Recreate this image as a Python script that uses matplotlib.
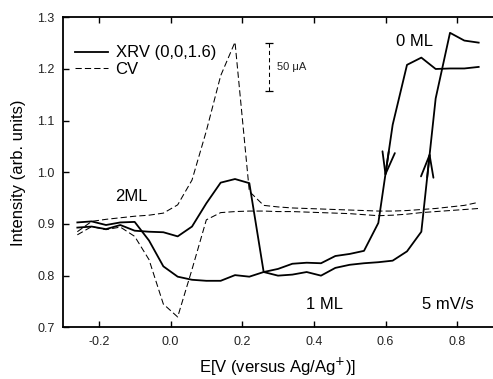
import matplotlib
matplotlib.use("Agg")
import matplotlib.pyplot as plt
import numpy as np

plt.rcParams['font.family'] = ['Liberation Sans', 'DejaVu Sans']
plt.rcParams['axes.unicode_minus'] = False

# XRV (0,0,1.6) intensity, positive-going scan (through the 2ML hump)
xrv_fwd_v = [-0.26, -0.22, -0.18, -0.14, -0.10, -0.06, -0.02, 0.02, 0.06, 0.10,
             0.14, 0.18, 0.22, 0.26, 0.30, 0.34, 0.38, 0.42, 0.46, 0.50,
             0.54, 0.58, 0.62, 0.66, 0.70, 0.74, 0.78, 0.82, 0.86]
xrv_fwd_i = [0.893, 0.895, 0.890, 0.898, 0.887, 0.885, 0.884, 0.876, 0.895, 0.940,
             0.980, 0.987, 0.979, 0.807, 0.800, 0.802, 0.807, 0.800, 0.815, 0.821,
             0.824, 0.826, 0.829, 0.847, 0.885, 1.143, 1.270, 1.255, 1.251]

# XRV, negative-going scan
xrv_rev_v = [0.86, 0.82, 0.78, 0.74, 0.70, 0.66, 0.62, 0.58, 0.54, 0.50,
             0.46, 0.42, 0.38, 0.34, 0.30, 0.26, 0.22, 0.18, 0.14, 0.10,
             0.06, 0.02, -0.02, -0.06, -0.10, -0.14, -0.18, -0.22, -0.26]
xrv_rev_i = [1.204, 1.201, 1.201, 1.200, 1.222, 1.208, 1.092, 0.902, 0.848, 0.842,
             0.838, 0.824, 0.825, 0.823, 0.813, 0.807, 0.798, 0.801, 0.790, 0.790,
             0.792, 0.798, 0.818, 0.868, 0.904, 0.903, 0.898, 0.905, 0.903]

# CV (arbitrary offset/scale), anodic branch with the peak
cv_a_v = [-0.26, -0.22, -0.18, -0.14, -0.10, -0.06, -0.02, 0.02, 0.06, 0.10,
          0.14, 0.18, 0.22, 0.26, 0.30, 0.34, 0.38, 0.42, 0.46, 0.50,
          0.54, 0.58, 0.62, 0.66, 0.70, 0.74, 0.78, 0.82, 0.86]
cv_a_i = [0.885, 0.905, 0.909, 0.912, 0.915, 0.917, 0.921, 0.937, 0.985, 1.080,
          1.187, 1.252, 0.963, 0.936, 0.933, 0.931, 0.930, 0.929, 0.928, 0.927,
          0.926, 0.925, 0.925, 0.926, 0.928, 0.930, 0.933, 0.936, 0.942]

# CV cathodic branch with the valley
cv_b_v = cv_a_v
cv_b_i = [0.879, 0.895, 0.889, 0.894, 0.876, 0.831, 0.745, 0.720, 0.812, 0.908,
          0.922, 0.924, 0.925, 0.925, 0.924, 0.924, 0.923, 0.922, 0.921, 0.920,
          0.918, 0.916, 0.917, 0.919, 0.922, 0.924, 0.926, 0.928, 0.930]

# scale bar for the CV current (50 uA)
bar_v = 0.275
bar_top = 1.250
bar_bottom = 1.157

# scan-direction arrows: intensity level where the chevron tip sits
arrow_down_i = 0.99
arrow_up_i = 1.04

fig = plt.figure(figsize=(4.93, 3.79), dpi=100)
ax = fig.add_axes([0.1278, 0.1364, 0.8722, 0.8179])

ax.plot(xrv_fwd_v, xrv_fwd_i, color='black', lw=1.3, label='XRV (0,0,1.6)')
ax.plot(xrv_rev_v, xrv_rev_i, color='black', lw=1.3)
ax.plot(cv_a_v, cv_a_i, color='black', lw=0.75, dashes=(6, 3), label='CV')
ax.plot(cv_b_v, cv_b_i, color='black', lw=0.75, dashes=(6, 3))

# scale bar
ax.plot([bar_v, bar_v], [bar_bottom, bar_top], color='black', lw=0.75, dashes=(4, 3))
ax.plot([bar_v, bar_v], [bar_bottom, bar_top], ls='none', marker='_', ms=6,
        mew=0.9, color='black')
ax.text(bar_v + 0.021, (bar_top + bar_bottom) / 2, '50 \u03bcA', fontsize=8,
        ha='left', va='center', color='#222222')

# chevrons marking the scan direction on the two steep branches
seg_v = xrv_rev_v[6:8][::-1]
seg_i = xrv_rev_i[6:8][::-1]
tip_v = np.interp(arrow_down_i, seg_i, seg_v)
tail_v = np.interp(arrow_down_i + 0.05, seg_i, seg_v)
ax.annotate('', xy=(tip_v, arrow_down_i), xytext=(tail_v, arrow_down_i + 0.05),
            arrowprops=dict(arrowstyle='->,head_length=1.6,head_width=0.45',
                            lw=1.3, color='black', shrinkA=0, shrinkB=0))
seg_v = xrv_fwd_v[24:26]
seg_i = xrv_fwd_i[24:26]
tip_v = np.interp(arrow_up_i, seg_i, seg_v)
tail_v = np.interp(arrow_up_i - 0.05, seg_i, seg_v)
ax.annotate('', xy=(tip_v, arrow_up_i), xytext=(tail_v, arrow_up_i - 0.05),
            arrowprops=dict(arrowstyle='->,head_length=1.6,head_width=0.45',
                            lw=1.3, color='black', shrinkA=0, shrinkB=0))

# annotations
ax.text(-0.109, 0.953, '2ML', fontsize=12, ha='center', va='center')
ax.text(0.682, 1.254, '0 ML', fontsize=12, ha='center', va='center')
ax.text(0.431, 0.7435, '1 ML', fontsize=12, ha='center', va='center')
ax.text(0.773, 0.7435, '5 mV/s', fontsize=12, ha='center', va='center')

ax.set_xlim(-0.3, 0.9)
ax.set_ylim(0.7, 1.3)
ax.set_xticks([-0.2, 0.0, 0.2, 0.4, 0.6, 0.8])
ax.set_xticklabels(['-0.2', '0.0', '0.2', '0.4', '0.6', '0.8'])
ax.set_yticks([0.7, 0.8, 0.9, 1.0, 1.1, 1.2, 1.3])
ax.set_yticklabels(['0.7', '0.8', '0.9', '1.0', '1.1', '1.2', '1.3'])
ax.tick_params(direction='in', length=4, width=1.0, labelsize=9, pad=6,
               top=True, right=False, labelcolor='#222222')
ax.spines['right'].set_visible(False)
for s in ['left', 'bottom', 'top']:
    ax.spines[s].set_linewidth(1.3)

ax.set_xlabel('E[V (versus Ag/Ag$^{+}$)]', fontsize=12, labelpad=5.5)
ax.set_ylabel('Intensity (arb. units)', fontsize=12, labelpad=8)

ax.legend(loc='upper left', bbox_to_anchor=(0.0, 0.947), frameon=False,
          fontsize=12, handlelength=2.0, handletextpad=0.45, labelspacing=0.1,
          borderaxespad=0.0, borderpad=0.7)

fig.savefig('out.png', dpi=100)
